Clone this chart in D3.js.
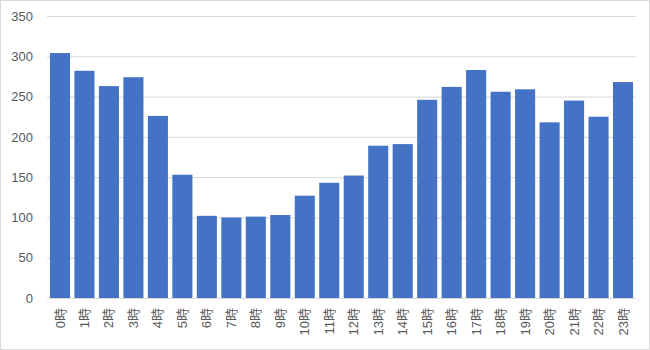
<!DOCTYPE html>
<html>
<head>
<meta charset="utf-8">
<script src="https://cdn.jsdelivr.net/npm/d3@7"></script>
<style>
  html, body { margin: 0; padding: 0; background: #fff; }
  svg { display: block; }
  text { font-family: "Liberation Sans", Arial, "Noto Sans CJK JP", sans-serif; }
</style>
</head>
<body>
<svg id="chart" width="650" height="350"></svg>
<script>
// Hourly counts, 0時 through 23時
const hours = ["0時","1時","2時","3時","4時","5時","6時","7時","8時","9時","10時","11時",
               "12時","13時","14時","15時","16時","17時","18時","19時","20時","21時","22時","23時"];
const counts = [304, 282, 263, 274, 226, 153, 102, 100, 101, 103, 127, 143,
                152, 189, 191, 246, 262, 283, 256, 259, 218, 245, 225, 268];
const yTicks = [0, 50, 100, 150, 200, 250, 300, 350];

const width = 650, height = 350;
const margin = { top: 16, right: 14, bottom: 52, left: 47 };

const svg = d3.select("#chart");

// outer frame of the chart area
svg.append("rect")
  .attr("x", 0.5).attr("y", 0.5)
  .attr("width", width - 1).attr("height", height - 1)
  .attr("fill", "#fff").attr("stroke", "#d9d9d9");

const x = d3.scaleBand()
  .domain(hours)
  .range([margin.left, width - margin.right])
  .paddingInner(0.18)
  .paddingOuter(0.12);

const y = d3.scaleLinear()
  .domain([0, 350])
  .range([height - margin.bottom, margin.top]);

// horizontal gridlines with value labels
const yAxis = d3.axisLeft(y)
  .tickValues(yTicks)
  .tickSize(-(width - margin.left - margin.right))
  .tickPadding(14);

const gy = svg.append("g")
  .attr("transform", `translate(${margin.left},0)`)
  .call(yAxis);
gy.select(".domain").remove();
gy.selectAll(".tick line").attr("stroke", "#d9d9d9").attr("stroke-width", 1);
gy.selectAll(".tick text")
  .attr("fill", "#595959")
  .style("font-size", "13px");

// bars
svg.append("g")
  .selectAll("rect")
  .data(counts)
  .join("rect")
  .attr("x", (d, i) => x(hours[i]))
  .attr("y", d => y(d))
  .attr("width", x.bandwidth())
  .attr("height", d => y(0) - y(d))
  .attr("fill", "#4472C4");

// category axis along the baseline, labels rotated upward
const xAxis = d3.axisBottom(x).tickSize(0).tickPadding(0);
const gx = svg.append("g")
  .attr("transform", `translate(0,${y(0)})`)
  .call(xAxis);
gx.select(".domain").attr("stroke", "#d9d9d9");
gx.selectAll(".tick text")
  .attr("fill", "#595959")
  .style("font-size", "13px")
  .attr("text-anchor", "end")
  .attr("transform", "translate(0,10) rotate(-90)")
  .attr("x", 0)
  .attr("y", 0)
  .attr("dy", "0.35em");
</script>
</body>
</html>
